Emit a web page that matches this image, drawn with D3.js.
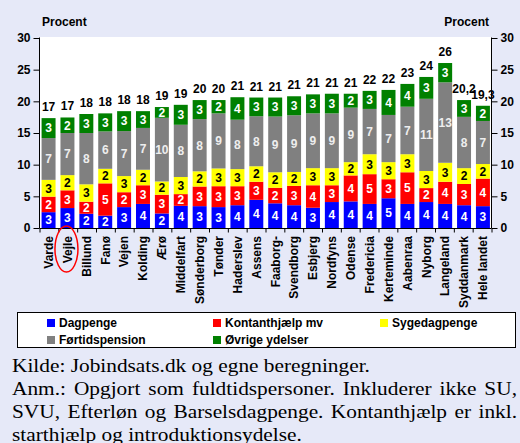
<!DOCTYPE html>
<html>
<head>
<meta charset="utf-8">
<script src="https://cdn.jsdelivr.net/npm/d3@7"></script>
<style>
  body { margin: 0; background: #e6e9f8; }
  svg { display: block; }
  .chart text { font-family: "Liberation Sans", Arial, sans-serif; font-weight: bold; }
  .chart .note text { font-family: "Liberation Serif", "Times New Roman", serif; font-size: 18px; font-weight: normal; }
</style>
</head>
<body>
<div class="chart"></div>
<script>
var categories = ["Varde", "Vejle", "Billund", "Fanø", "Vejen", "Kolding", "Ærø", "Middelfart",
  "Sønderborg", "Tønder", "Haderslev", "Assens", "Faaborg-", "Svendborg", "Esbjerg", "Nordfyns",
  "Odense", "Fredericia", "Kerteminde", "Aabenraa", "Nyborg", "Langeland", "Syddanmark", "Hele landet"];

var dagpenge      = [2.5, 3.15, 2.25, 1.95, 3.3, 3.8, 2.3, 3.5, 3.45, 3.3, 3.6, 4.45, 3.9, 3.6, 3.2, 4.1, 4.2, 3.8, 4.7, 3.8, 4.1, 3.8, 3.6, 3.45];
var kontanthjaelp = [2.45, 2.8, 1.9, 5.1, 2.35, 2.95, 2.95, 1.85, 3.1, 3.3, 3.0, 2.85, 2.45, 3.05, 3.55, 2.65, 4.1, 4.7, 3.0, 5.0, 2.2, 3.5, 3.35, 4.35];
var sygedagpenge  = [2.65, 2.4, 2.75, 2.3, 2.55, 2.45, 2.1, 2.7, 2.4, 2.8, 2.7, 2.45, 2.45, 2.2, 2.7, 2.7, 2.1, 3.15, 2.7, 2.85, 2.7, 3.0, 2.5, 2.3];
var foertid       = [6.6, 6.65, 8.1, 5.9, 7.1, 6.6, 10.05, 8.25, 8.25, 8.7, 7.8, 7.9, 8.8, 8.95, 8.65, 8.65, 8.6, 7.15, 7.45, 7.5, 11.4, 12.7, 8.1, 6.8];
var oevrige       = [3.15, 2.45, 3.0, 2.85, 3.15, 2.65, 1.7, 3.15, 3.0, 2.1, 3.55, 2.95, 3.0, 3.0, 3.0, 3.1, 2.2, 2.85, 3.95, 3.6, 3.45, 3.05, 2.65, 2.4];

var seriesNames = ["Dagpenge", "Kontanthjælp mv", "Sygedagpenge", "Førtidspension", "Øvrige ydelser"];
var seriesColors = ["#0000ff", "#ff0000", "#ffff00", "#808080", "#008000"];
var labelColors = ["#ffffff", "#ffffff", "#000000", "#eeeeee", "#ffffff"];
var oneDecimal = ["Syddanmark", "Hele landet"]; // totals shown with one decimal
var yTicks = [0, 5, 10, 15, 20, 25, 30];
var highlighted = "Vejle";

var noteLines = [
  "Kilde: Jobindsats.dk og egne beregninger.",
  "Anm.: Opgjort som fuldtidspersoner. Inkluderer ikke SU,",
  "SVU, Efterløn og Barselsdagpenge. Kontanthjælp er inkl.",
  "starthjælp og introduktionsydelse."
];
var justified = [false, true, true, false];

var width = 520, height = 443;
var plot = {left: 39.5, right: 491.5, top: 37, bottom: 228};

var keys = ["dagpenge", "kontanthjaelp", "sygedagpenge", "foertid", "oevrige"];
var rows = categories.map(function(c, i) {
  return {cat: c, dagpenge: dagpenge[i], kontanthjaelp: kontanthjaelp[i],
    sygedagpenge: sygedagpenge[i], foertid: foertid[i], oevrige: oevrige[i]};
});
var stacked = d3.stack().keys(keys)(rows);

var x = d3.scaleBand()
  .domain(categories)
  .range([plot.left, plot.right + 0.5])
  .paddingInner(0.26)
  .paddingOuter(0.11);

var y = d3.scaleLinear()
  .domain([0, 30])
  .range([plot.bottom, plot.top + 1]);

var xIdx = d3.scaleLinear()
  .domain([0, categories.length])
  .range([plot.left, plot.right]);

var da = d3.formatLocale({decimal: ",", thousands: ".", grouping: [3], currency: ["", " kr."]});
var fmt1 = da.format(".1f");

var svg = d3.select(".chart").append("svg")
  .attr("width", width)
  .attr("height", height);

svg.append("rect")
  .attr("width", width).attr("height", height)
  .attr("fill", "#e6e9f8");

svg.append("rect")
  .attr("x", plot.left).attr("y", plot.top)
  .attr("width", plot.right - plot.left).attr("height", plot.bottom - plot.top)
  .attr("fill", "#ffffff");

// bars
var layer = svg.selectAll(".layer")
  .data(stacked)
  .enter().append("g")
    .attr("class", "layer")
    .attr("fill", (d, i) => seriesColors[i]);

layer.selectAll("rect")
  .data(d => d)
  .enter().append("rect")
    .attr("x", d => x(d.data.cat))
    .attr("width", x.bandwidth())
    .attr("y", d => y(d[1]))
    .attr("height", d => y(d[0]) - y(d[1]));

// labels in segments
stacked.forEach(function(s, si) {
  svg.append("g").selectAll("text")
    .data(s)
    .enter().append("text")
      .attr("x", d => x(d.data.cat) + x.bandwidth() / 2)
      .attr("y", d => (y(d[0]) + y(d[1])) / 2)
      .attr("dy", "0.36em")
      .attr("text-anchor", "middle")
      .attr("font-size", 12)
      .attr("fill", labelColors[si])
      .text(d => Math.round(d[1] - d[0]));
});

// totals
var tops = stacked[stacked.length - 1];
svg.append("g").selectAll("text")
  .data(tops)
  .enter().append("text")
    .attr("x", d => x(d.data.cat) + x.bandwidth() / 2)
    .attr("y", d => y(d[1]) - 7)
    .attr("text-anchor", "middle")
    .attr("font-size", 12)
    .attr("fill", "#000")
    .text(d => oneDecimal.indexOf(d.data.cat) >= 0 ? fmt1(d[1]) : Math.round(d[1]));

// axes
var leftAxis = svg.append("g")
  .attr("transform", `translate(${plot.left},0)`)
  .call(d3.axisLeft(y).tickValues(yTicks).tickSize(6).tickPadding(3));

var rightAxis = svg.append("g")
  .attr("transform", `translate(${plot.right},0)`)
  .call(d3.axisRight(y).tickValues(yTicks).tickSize(6).tickPadding(3));

[leftAxis, rightAxis].forEach(function(g) {
  g.select(".domain").attr("d", `M0,${plot.top + 0.5}V${plot.bottom}`);
  g.selectAll("text").attr("font-size", 12).attr("font-family", null).attr("fill", "#000");
  g.selectAll("path, line").attr("stroke", "#000");
});

var bottomTicks = svg.append("g")
  .attr("transform", `translate(0,${plot.bottom + 0.5})`)
  .call(d3.axisBottom(xIdx).tickValues(d3.range(categories.length + 1)).tickSize(4).tickFormat(""));
bottomTicks.select(".domain").attr("d", `M${plot.left},0H${plot.right}`);
bottomTicks.selectAll("path, line").attr("stroke", "#000");

var catAxis = svg.append("g")
  .attr("transform", `translate(0,${plot.bottom})`)
  .call(d3.axisBottom(x).tickSize(0).tickPadding(0));
catAxis.select(".domain").remove();
catAxis.selectAll("text")
  .attr("font-size", 12)
  .attr("font-family", null)
  .attr("fill", "#000")
  .attr("text-anchor", "end")
  .attr("transform", "translate(0,8) rotate(-90)")
  .attr("x", 0)
  .attr("y", 0)
  .attr("dy", "0.36em");

// axis titles
svg.append("text")
  .attr("x", 42).attr("y", 26)
  .attr("font-size", 12)
  .text("Procent");
svg.append("text")
  .attr("x", 489).attr("y", 26)
  .attr("text-anchor", "end")
  .attr("font-size", 12)
  .text("Procent");

// circle around highlighted municipality
svg.append("ellipse")
  .attr("cx", x(highlighted) + x.bandwidth() / 2 - 1)
  .attr("cy", 249)
  .attr("rx", 11.5)
  .attr("ry", 23)
  .attr("fill", "none")
  .attr("stroke", "#ff0000")
  .attr("stroke-width", 1.5);

// legend
var legend = svg.append("g").attr("class", "legend");
legend.append("rect")
  .attr("x", 17.5).attr("y", 312.5)
  .attr("width", 498).attr("height", 35)
  .attr("fill", "#fff")
  .attr("stroke", "#000");

var legendCols = [47, 213, 380];
var legendRows = [323, 340];
var item = legend.selectAll(".item")
  .data(seriesNames)
  .enter().append("g")
    .attr("class", "item")
    .attr("transform", (d, i) => `translate(${legendCols[i % 3]},${legendRows[Math.floor(i / 3)]})`);
item.append("rect")
  .attr("x", 0).attr("y", -4)
  .attr("width", 8).attr("height", 8)
  .attr("fill", (d, i) => seriesColors[i]);
item.append("text")
  .attr("x", 12).attr("dy", "0.36em")
  .attr("font-size", 12)
  .text(d => d);

// notes below the chart (the source picture is a bit stretched sideways)
var stretch = 1.186;
var noteWidth = 505;
var note = svg.append("g")
  .attr("class", "note")
  .attr("transform", `translate(12,0) scale(${stretch},1)`);

note.selectAll("text")
  .data(noteLines)
  .enter().append("text")
    .attr("x", 0)
    .attr("y", (d, i) => 372 + i * 23)
    .attr("fill", "#000")
    .each(function(d, i) {
      var t = d3.select(this);
      if (!justified[i]) {
        t.text(d);
        return;
      }
      // justify: spread the words over the full width
      var words = d.split(" ");
      var spans = words.map(w => t.append("tspan").text(w));
      var lens = spans.map(s => s.node().getComputedTextLength());
      var gap = (noteWidth / stretch - d3.sum(lens)) / (words.length - 1);
      var pos = 0;
      spans.forEach(function(s, k) {
        s.attr("x", pos);
        pos += lens[k] + gap;
      });
    });
</script>
</body>
</html>
